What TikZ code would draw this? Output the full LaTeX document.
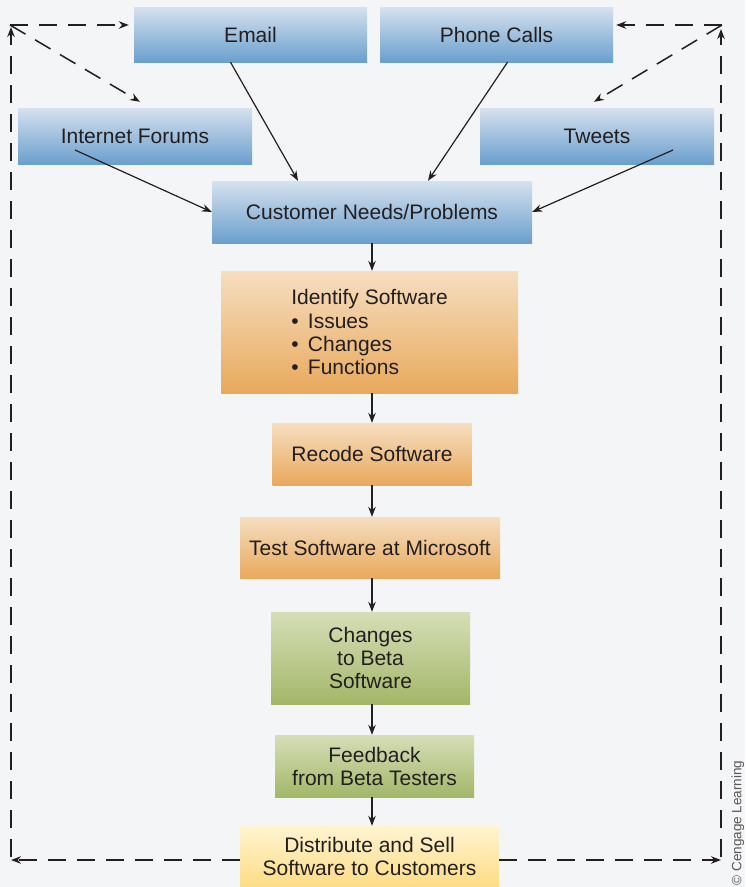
\documentclass[tikz,border=0pt]{standalone}
\usepackage{fontspec}
\setmainfont{Liberation Sans}
\usetikzlibrary{arrows.meta, positioning, calc}

\definecolor{paper}{HTML}{F4F5F7}
\definecolor{ink}{HTML}{231F20}
\definecolor{blueTop}{HTML}{D6E1EE}
\definecolor{blueBot}{HTML}{6A9FCD}
\definecolor{orangeTop}{HTML}{F6DEC0}
\definecolor{orangeBot}{HTML}{E8A95C}
\definecolor{greenTop}{HTML}{D6DEB8}
\definecolor{greenBot}{HTML}{A3B768}
\definecolor{yellowTop}{HTML}{FFF4D2}
\definecolor{yellowBot}{HTML}{FDDC84}

\tikzset{
  box/.style={inner sep=0pt, align=center, text=ink,
    font=\fontsize{21}{23}\selectfont},
  sourcebox/.style={box, top color=blueTop, bottom color=blueBot},
  workbox/.style={box, top color=orangeTop, bottom color=orangeBot},
  betabox/.style={box, top color=greenTop, bottom color=greenBot},
  salebox/.style={box, top color=yellowTop, bottom color=yellowBot},
  arr/.style={draw=ink, line width=1.2pt, -{Stealth[length=10pt, width=7.5pt]}},
  backflow/.style={arr, line width=1.5pt, dash pattern=on 18pt off 11pt}
}

\begin{document}
\begin{tikzpicture}[x=1pt, y=-1pt]
    % Page
    \fill[paper] (0,0) rectangle (745,887);
    \useasboundingbox (0,0) rectangle (745,887);

    % Feedback channels
    \node[sourcebox, minimum width=233, minimum height=55] (email) at (250.5,34.5) {Email};
    \node[sourcebox, minimum width=233, minimum height=55] (phone) at (496.5,34.5) {Phone Calls};
    \node[sourcebox, minimum width=234, minimum height=56] (forums) at (135,136) {Internet Forums};
    \node[sourcebox, minimum width=234, minimum height=56] (tweets) at (597,136) {Tweets};

    % Main chain
    \node[sourcebox, minimum width=320, minimum height=62] (needs) at (372,212) {Customer Needs/Problems};
    \node[workbox, minimum width=297, minimum height=122, align=left] (identify) at (369.5,332)
        {Identify Software\\[1pt] \textbullet\ \,Issues\\ \textbullet\ \,Changes\\ \textbullet\ \,Functions};
    \node[workbox, minimum width=199, minimum height=62] (recode) at (372,454) {Recode Software};
    \node[workbox, minimum width=260, minimum height=61] (test) at (370,547.5) {Test Software at Microsoft};
    \node[betabox, minimum width=199, minimum height=92] (changes) at (370.5,658) {Changes\\to Beta\\Software};
    \node[betabox, minimum width=199, minimum height=62] (feedback) at (374.5,766) {Feedback\\from Beta Testers};
    \node[salebox, minimum width=259, minimum height=61] (distribute) at (369.5,856.5) {Distribute and Sell\\Software to Customers};

    % Credit line
    \node[rotate=90, text=ink!75, font=\fontsize{13.5}{14}\selectfont] (credit) at (738,823) {© Cengage Learning};

    % Channels into customer needs
    \draw[arr] ([xshift=-20]email.south) -- ([xshift=-74]needs.north);
    \draw[arr] ([xshift=11]phone.south) -- ([xshift=56]needs.north);
    \draw[arr] ([shift={(-60,14)}]forums.center) -- (needs.west);
    \draw[arr] ([shift={(76,14)}]tweets.center) -- (needs.east);

    % Down the chain
    \draw[arr] (needs.south) -- (needs.south |- identify.north);
    \draw[arr] (needs.south |- identify.south) -- (needs.south |- recode.north);
    \draw[arr] (needs.south |- recode.south) -- (needs.south |- test.north);
    \draw[arr] (needs.south |- test.south) -- (needs.south |- changes.north);
    \draw[arr] (needs.south |- changes.south) -- (needs.south |- feedback.north);
    \draw[arr] (needs.south |- feedback.south) -- (needs.south |- distribute.north);

    % Loop back to the customers
    \coordinate (tl) at (10,25);
    \coordinate (tr) at (722,25);
    \coordinate (bl) at (11,860);
    \coordinate (br) at (721,860);

    \draw[backflow] (distribute.west |- bl) -- (bl);
    \draw[backflow] (distribute.east |- br) -- (br);
    \draw[backflow, shorten >=2pt] ([yshift=3]bl) -- (bl |- tl);
    \draw[backflow, shorten >=4pt] ([yshift=3]br) -- (br |- tr);
    \draw[backflow, shorten >=5pt] (tl) -- (email.west |- tl);
    \draw[backflow, shorten >=3pt] (tr) -- (phone.east |- tr);
    \draw[backflow] (tl) -- ([xshift=5, yshift=6]forums.north);
    \draw[backflow] (tr) -- ([xshift=-3, yshift=6]tweets.north);
\end{tikzpicture}
\end{document}
